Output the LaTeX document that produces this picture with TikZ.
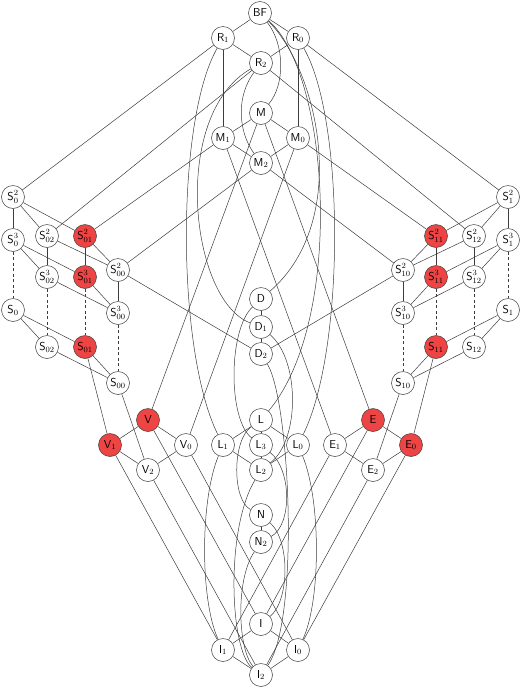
\documentclass[tikz,border=0pt]{standalone}
\usepackage{fontspec}
\usetikzlibrary{backgrounds}
\definecolor{nodered}{RGB}{238,68,68}
\definecolor{edgegray}{RGB}{60,60,60}
\begin{document}
\begin{tikzpicture}[x=1pt,y=-1pt,
  vtx/.style={circle,draw=edgegray,line width=0.5pt,fill=white,minimum size=23pt,inner sep=0pt,font=\sffamily\fontsize{11.5}{13}\selectfont},
  rvtx/.style={vtx,fill=nodered},
  ln/.style={draw=edgegray,line width=0.5pt},
  dln/.style={ln,dash pattern=on 3pt off 2.5pt}]
\useasboundingbox (0,0) rectangle (522,689);
% top
\node[vtx] (BF) at (260,13) {BF};
\node[vtx] (R1) at (223,38) {R$_1$};
\node[vtx] (R0) at (298,38) {R$_0$};
\node[vtx] (R2) at (261,63) {R$_2$};
\node[vtx] (M) at (261,113) {M};
\node[vtx] (M1) at (223,138) {M$_1$};
\node[vtx] (M0) at (298,138) {M$_0$};
\node[vtx] (M2) at (261,163) {M$_2$};
% left S
\node[vtx] (S0a) at (13,197) {S$^2_0$};
\node[vtx] (S0b) at (13,240) {S$^3_0$};
\node[vtx] (S0c) at (13,310) {S$_0$};
\node[vtx] (S02a) at (47,236) {S$^2_{02}$};
\node[vtx] (S02b) at (47,277) {S$^3_{02}$};
\node[vtx] (S02c) at (47,347) {S$_{02}$};
\node[rvtx] (S01a) at (85,236) {S$^2_{01}$};
\node[rvtx] (S01b) at (85,277) {S$^3_{01}$};
\node[rvtx] (S01c) at (85,347) {S$_{01}$};
\node[vtx] (S00a) at (118,270) {S$^2_{00}$};
\node[vtx] (S00b) at (118,313) {S$^3_{00}$};
\node[vtx] (S00c) at (118,383) {S$_{00}$};
% right S
\node[vtx] (S1a) at (508,197) {S$^2_1$};
\node[vtx] (S1b) at (508,240) {S$^3_1$};
\node[vtx] (S1c) at (508,310) {S$_1$};
\node[vtx] (S12a) at (474,236) {S$^2_{12}$};
\node[vtx] (S12b) at (474,277) {S$^3_{12}$};
\node[vtx] (S12c) at (474,347) {S$_{12}$};
\node[rvtx] (S11a) at (436,236) {S$^2_{11}$};
\node[rvtx] (S11b) at (436,277) {S$^3_{11}$};
\node[rvtx] (S11c) at (436,347) {S$_{11}$};
\node[vtx] (S10a) at (403,270) {S$^2_{10}$};
\node[vtx] (S10b) at (403,313) {S$^3_{10}$};
\node[vtx] (S10c) at (403,383) {S$_{10}$};
% middle
\node[vtx] (D) at (261,299) {D};
\node[vtx] (D1) at (261,327) {D$_1$};
\node[vtx] (D2) at (261,354) {D$_2$};
\node[rvtx] (V) at (148,420) {V};
\node[rvtx] (V1) at (110,445) {V$_1$};
\node[vtx] (V0) at (186,445) {V$_0$};
\node[vtx] (V2) at (148,470) {V$_2$};
\node[vtx] (L) at (261,420) {L};
\node[vtx] (L1) at (223,445) {L$_1$};
\node[vtx] (L3) at (261,445) {L$_3$};
\node[vtx] (L0) at (298,445) {L$_0$};
\node[vtx] (L2) at (261,470) {L$_2$};
\node[rvtx] (E) at (373,420) {E};
\node[vtx] (E1) at (335,445) {E$_1$};
\node[rvtx] (E0) at (411,445) {E$_0$};
\node[vtx] (E2) at (373,470) {E$_2$};
\node[vtx] (N) at (261,515) {N};
\node[vtx] (N2) at (261,542) {N$_2$};
\node[vtx] (I) at (261,624) {I};
\node[vtx] (I1) at (223,650) {I$_1$};
\node[vtx] (I0) at (298,650) {I$_0$};
\node[vtx] (I2) at (261,675) {I$_2$};

\begin{scope}[on background layer]
% straight edges top
\draw[ln] (BF) -- (R1);
\draw[ln] (BF) -- (R0);
\draw[ln] (R1) -- (R2);
\draw[ln] (R0) -- (R2);
\draw[ln] (R1) -- (M1);
\draw[ln] (R0) -- (M0);
\draw[ln] (M) -- (M1);
\draw[ln] (M) -- (M0);
\draw[ln] (M1) -- (M2);
\draw[ln] (M0) -- (M2);
\draw[ln] (R1) -- (S0a);
\draw[ln] (R0) -- (S1a);
\draw[ln] (R2) -- (S02a);
\draw[ln] (R2) -- (S12a);
\draw[ln] (M1) -- (S01a);
\draw[ln] (M0) -- (S11a);
\draw[ln] (M2) -- (S00a);
\draw[ln] (M2) -- (S10a);
% left S block
\draw[ln] (S0a) -- (S0b);
\draw[ln] (S0a) -- (S02a);
\draw[ln] (S0a) -- (S01a);
\draw[ln] (S0b) -- (S02b);
\draw[ln] (S0b) -- (S01b);
\draw[ln] (S02a) -- (S02b);
\draw[ln] (S02a) -- (S00a);
\draw[ln] (S01a) -- (S01b);
\draw[ln] (S01a) -- (S00a);
\draw[ln] (S02b) -- (S00b);
\draw[ln] (S01b) -- (S00b);
\draw[ln] (S00a) -- (S00b);
\draw[ln] (S0c) -- (S02c);
\draw[ln] (S0c) -- (S01c);
\draw[ln] (S02c) -- (S00c);
\draw[ln] (S01c) -- (S00c);
\draw[dln] (S0b) -- (S0c);
\draw[dln] (S02b) -- (S02c);
\draw[dln] (S01b) -- (S01c);
\draw[dln] (S00b) -- (S00c);
% right S block
\draw[ln] (S1a) -- (S1b);
\draw[ln] (S1a) -- (S12a);
\draw[ln] (S1a) -- (S11a);
\draw[ln] (S1b) -- (S12b);
\draw[ln] (S1b) -- (S11b);
\draw[ln] (S12a) -- (S12b);
\draw[ln] (S12a) -- (S10a);
\draw[ln] (S11a) -- (S11b);
\draw[ln] (S11a) -- (S10a);
\draw[ln] (S12b) -- (S10b);
\draw[ln] (S11b) -- (S10b);
\draw[ln] (S10a) -- (S10b);
\draw[ln] (S1c) -- (S12c);
\draw[ln] (S1c) -- (S11c);
\draw[ln] (S12c) -- (S10c);
\draw[ln] (S11c) -- (S10c);
\draw[dln] (S1b) -- (S1c);
\draw[dln] (S12b) -- (S12c);
\draw[dln] (S11b) -- (S11c);
\draw[dln] (S10b) -- (S10c);
% D
\draw[ln] (S00a) -- (D2);
\draw[ln] (S10a) -- (D2);
\draw[ln] (D) -- (D1);
\draw[ln] (D1) -- (D2);
% to V, E
\draw[ln] (M) -- (V);
\draw[ln] (M) -- (E);
\draw[ln] (M1) -- (E1);
\draw[ln] (M0) -- (V0);
\draw[ln] (S01c) -- (V1);
\draw[ln] (S00c) -- (V2);
\draw[ln] (S11c) -- (E0);
\draw[ln] (S10c) -- (E2);
\draw[ln] (V) -- (V1);
\draw[ln] (V) -- (V0);
\draw[ln] (V1) -- (V2);
\draw[ln] (V0) -- (V2);
\draw[ln] (E) -- (E1);
\draw[ln] (E) -- (E0);
\draw[ln] (E1) -- (E2);
\draw[ln] (E0) -- (E2);
\draw[ln] (L) -- (L1);
\draw[ln] (L) -- (L0);
\draw[ln] (L1) -- (L2);
\draw[ln] (L0) -- (L2);
\draw[ln] (L) -- (L3);
\draw[ln] (L3) -- (L2);
\draw[ln] (N) -- (N2);
% bottom
\draw[ln] (I) -- (I1);
\draw[ln] (I) -- (I0);
\draw[ln] (I1) -- (I2);
\draw[ln] (I0) -- (I2);
\draw[ln] (V1) -- (I1);
\draw[ln] (V) -- (I);
\draw[ln] (V0) -- (I0);
\draw[ln] (V2) -- (I2);
\draw[ln] (E1) -- (I1);
\draw[ln] (E) -- (I);
\draw[ln] (E0) -- (I0);
\draw[ln] (E2) -- (I2);
% curves
\draw[ln] (BF) .. controls (285,45) and (285,85) .. (M);
\draw[ln] (R2) .. controls (237,95) and (237,130) .. (M2);
\draw[ln] (BF) .. controls (318,70) and (352,220) .. (D);
\draw[ln] (BF) .. controls (330,75) and (345,320) .. (L);
\draw[ln] (R0) .. controls (345,120) and (345,350) .. (L0);
\draw[ln] (R1) .. controls (176,120) and (176,350) .. (L1);
\draw[ln] (R2) .. controls (170,115) and (190,300) .. (D1);
\draw[ln] (D) .. controls (228,330) and (228,420) .. (L3);
\draw[ln] (D1) .. controls (300,360) and (300,440) .. (L2);
\draw[ln] (D2) .. controls (290,400) and (300,620) .. (I2);
\draw[ln] (L2) .. controls (225,530) and (230,650) .. (I2);
\draw[ln] (L) .. controls (232,440) and (232,500) .. (N);
\draw[ln] (L3) .. controls (292,470) and (292,525) .. (N2);
\draw[ln] (N) .. controls (290,540) and (290,600) .. (I);
\draw[ln] (N2) .. controls (235,580) and (238,650) .. (I2);
\draw[ln] (L1) .. controls (200,500) and (200,600) .. (I1);
\draw[ln] (L0) .. controls (321,500) and (321,600) .. (I0);
\end{scope}
\end{tikzpicture}
\end{document}
